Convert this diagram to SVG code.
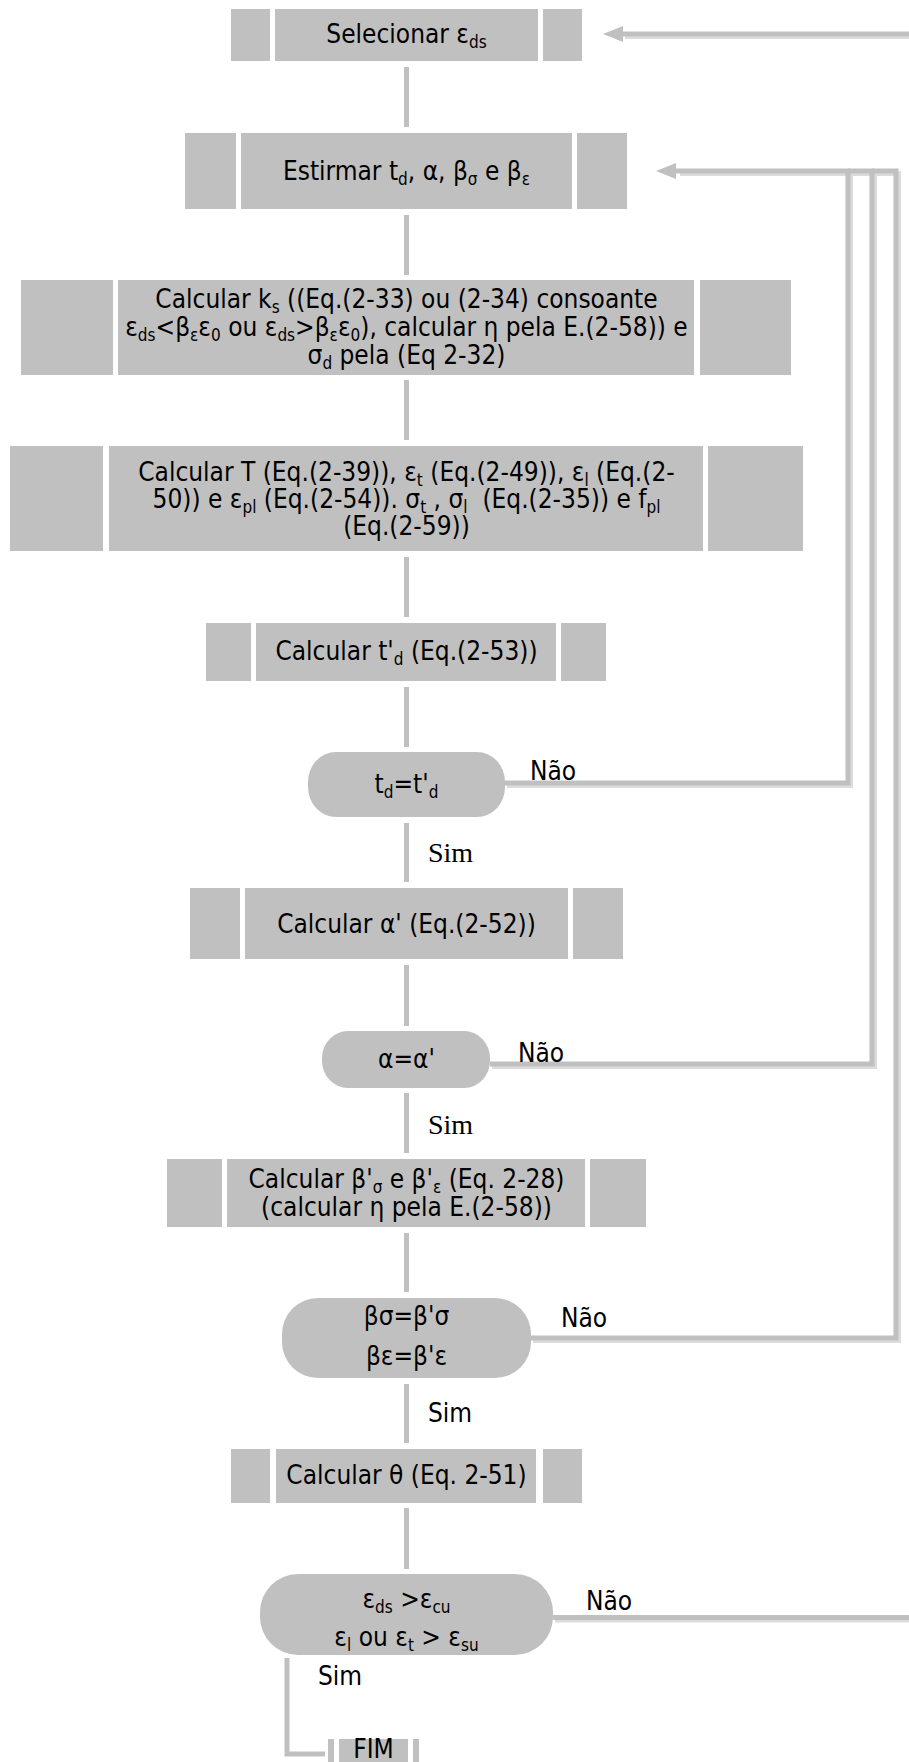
<svg xmlns="http://www.w3.org/2000/svg" width="909" height="1762" viewBox="0 0 909 1762">
<style>
.box{fill:#c0c0c0}
.t{font-family:'DejaVu Sans Condensed','DejaVu Sans',sans-serif;font-stretch:condensed;font-size:26px;fill:#000;text-anchor:middle}
.lbl{font-family:'DejaVu Sans Condensed','DejaVu Sans',sans-serif;font-stretch:condensed;font-size:26px;fill:#000}
.sim{font-family:'Liberation Serif',serif;font-size:28px;fill:#000}
.s{font-size:17px}
.conn{stroke:#c0c0c0;stroke-width:5}
.loop{fill:none;stroke:#c0c0c0;stroke-width:5}
.loopsh{fill:none;stroke:#dcdcdc;stroke-width:5}
</style>
<defs>
<marker id="arr" markerUnits="userSpaceOnUse" viewBox="0 0 20 16" markerWidth="20" markerHeight="16" refX="0" refY="8" orient="auto">
<path d="M0,0 L20,8 L0,16 z" fill="#c0c0c0"/>
</marker>
</defs>

<g id="connectors">
<line class="conn" x1="406.5" y1="67" x2="406.5" y2="127"/>
<line class="conn" x1="406.5" y1="215" x2="406.5" y2="275"/>
<line class="conn" x1="406.5" y1="380" x2="406.5" y2="440"/>
<line class="conn" x1="406.5" y1="557" x2="406.5" y2="617"/>
<line class="conn" x1="406.5" y1="687" x2="406.5" y2="747"/>
<line class="conn" x1="406.5" y1="823" x2="406.5" y2="882"/>
<line class="conn" x1="406.5" y1="965" x2="406.5" y2="1026"/>
<line class="conn" x1="406.5" y1="1093" x2="406.5" y2="1153"/>
<line class="conn" x1="406.5" y1="1233" x2="406.5" y2="1292"/>
<line class="conn" x1="406.5" y1="1384" x2="406.5" y2="1443"/>
<line class="conn" x1="406.5" y1="1508" x2="406.5" y2="1569"/>
<polyline class="loop" points="287,1658 287,1754 325,1754"/>
<polyline class="loopsh" points="507,785.5 850.5,785.5 850.5,173.5"/>
<polyline class="loopsh" points="492,1066.5 874.5,1066.5 874.5,173.5"/>
<polyline class="loopsh" points="533,1340.5 898.5,1340.5 898.5,173.5 680,173.5"/>
<polyline class="loopsh" points="555,1620 930,1620"/>
<polyline class="loopsh" points="625,36.5 930,36.5"/>
<polyline class="loop" points="505,783 848,783 848,171 676,171" marker-end="url(#arr)"/>
<polyline class="loop" points="490,1064 872,1064 872,171 848,171"/>
<polyline class="loop" points="531,1338 896,1338 896,171 872,171"/>
<polyline class="loop" points="553,1617.5 930,1617.5 930,34 623,34" marker-end="url(#arr)"/>
</g>

<g id="n-selecionar">
<rect class="box" x="231" y="9" width="39" height="52"/>
<rect class="box" x="275" y="9" width="263" height="52"/>
<rect class="box" x="543" y="9" width="39" height="52"/>
<text class="t" x="406.5" y="43">Selecionar ε<tspan class="s" dy="5">ds</tspan></text>
</g>

<g id="n-estirmar">
<rect class="box" x="185" y="133" width="51" height="76"/>
<rect class="box" x="241" y="133" width="331" height="76"/>
<rect class="box" x="577" y="133" width="50" height="76"/>
<text class="t" x="406.5" y="180">Estirmar t<tspan class="s" dy="5">d</tspan><tspan dy="-5">, α, β</tspan><tspan class="s" dy="5">σ</tspan><tspan dy="-5"> e β</tspan><tspan class="s" dy="5">ε</tspan></text>
</g>

<g id="n-ks">
<rect class="box" x="21" y="280" width="92" height="95"/>
<rect class="box" x="118" y="280" width="576" height="95"/>
<rect class="box" x="700" y="280" width="91" height="95"/>
<text class="t" x="406.5" y="308">Calcular k<tspan class="s" dy="5">s</tspan><tspan dy="-5"> ((Eq.(2-33) ou (2-34) consoante</tspan></text>
<text class="t" x="406.5" y="336">ε<tspan class="s" dy="5">ds</tspan><tspan dy="-5">&lt;β</tspan><tspan class="s" dy="5">ε</tspan><tspan dy="-5">ε</tspan><tspan class="s" dy="5">0</tspan><tspan dy="-5"> ou ε</tspan><tspan class="s" dy="5">ds</tspan><tspan dy="-5">&gt;β</tspan><tspan class="s" dy="5">ε</tspan><tspan dy="-5">ε</tspan><tspan class="s" dy="5">0</tspan><tspan dy="-5">), calcular η pela E.(2-58)) e</tspan></text>
<text class="t" x="406.5" y="364">σ<tspan class="s" dy="5">d</tspan><tspan dy="-5"> pela (Eq 2-32)</tspan></text>
</g>

<g id="n-T">
<rect class="box" x="10" y="446" width="93" height="105"/>
<rect class="box" x="109" y="446" width="594" height="105"/>
<rect class="box" x="708" y="446" width="95" height="105"/>
<text class="t" x="406.5" y="481">Calcular T (Eq.(2-39)), ε<tspan class="s" dy="5">t</tspan><tspan dy="-5"> (Eq.(2-49)), ε</tspan><tspan class="s" dy="5">l</tspan><tspan dy="-5"> (Eq.(2-</tspan></text>
<text class="t" x="406.5" y="508">50)) e ε<tspan class="s" dy="5">pl</tspan><tspan dy="-5"> (Eq.(2-54)). σ</tspan><tspan class="s" dy="5">t</tspan><tspan dy="-5"> , σ</tspan><tspan class="s" dy="5">l</tspan><tspan dy="-5"> &#160;(Eq.(2-35)) e f</tspan><tspan class="s" dy="5">pl</tspan></text>
<text class="t" x="406.5" y="535">(Eq.(2-59))</text>
</g>

<g id="n-td">
<rect class="box" x="206" y="623" width="45" height="58"/>
<rect class="box" x="256" y="623" width="300" height="58"/>
<rect class="box" x="561" y="623" width="45" height="58"/>
<text class="t" x="406.5" y="660">Calcular t'<tspan class="s" dy="5">d</tspan><tspan dy="-5"> (Eq.(2-53))</tspan></text>
</g>

<g id="d-td">
<rect class="box" x="308" y="752" width="197" height="65" rx="28" ry="30"/>
<text class="t" x="406.5" y="793">t<tspan class="s" dy="5">d</tspan><tspan dy="-5">=t'</tspan><tspan class="s" dy="5">d</tspan></text>
</g>

<g id="n-alpha">
<rect class="box" x="190" y="888" width="50" height="71"/>
<rect class="box" x="245" y="888" width="323" height="71"/>
<rect class="box" x="573" y="888" width="50" height="71"/>
<text class="t" x="406.5" y="933">Calcular α' (Eq.(2-52))</text>
</g>

<g id="d-alpha">
<rect class="box" x="322" y="1031" width="168" height="57" rx="26" ry="27"/>
<text class="t" x="406.5" y="1068">α=α'</text>
</g>

<g id="n-beta">
<rect class="box" x="167" y="1159" width="55" height="68"/>
<rect class="box" x="227" y="1159" width="358" height="68"/>
<rect class="box" x="590" y="1159" width="56" height="68"/>
<text class="t" x="406.5" y="1188">Calcular β'<tspan class="s" dy="5">σ</tspan><tspan dy="-5"> e β'</tspan><tspan class="s" dy="5">ε</tspan><tspan dy="-5"> (Eq. 2-28)</tspan></text>
<text class="t" x="406.5" y="1216">(calcular η pela E.(2-58))</text>
</g>

<g id="d-beta">
<rect class="box" x="282" y="1298" width="249" height="80" rx="36" ry="36"/>
<text class="t" x="406.5" y="1325">βσ=β'σ</text>
<text class="t" x="406.5" y="1365">βε=β'ε</text>
</g>

<g id="n-theta">
<rect class="box" x="231" y="1449" width="39" height="54"/>
<rect class="box" x="276" y="1449" width="260" height="54"/>
<rect class="box" x="543" y="1449" width="39" height="54"/>
<text class="t" x="406.5" y="1484">Calcular θ (Eq. 2-51)</text>
</g>

<g id="d-eps">
<rect class="box" x="260" y="1574" width="293" height="81" rx="38" ry="38"/>
<text class="t" x="406.5" y="1608">ε<tspan class="s" dy="5">ds</tspan><tspan dy="-5"> &gt;ε</tspan><tspan class="s" dy="5">cu</tspan></text>
<text class="t" x="406.5" y="1646">ε<tspan class="s" dy="5">l</tspan><tspan dy="-5"> ou ε</tspan><tspan class="s" dy="5">t</tspan><tspan dy="-5"> &gt; ε</tspan><tspan class="s" dy="5">su</tspan></text>
</g>

<g id="n-fim">
<rect class="box" x="328" y="1739" width="6" height="40"/>
<rect class="box" x="339" y="1739" width="69" height="40"/>
<rect class="box" x="413" y="1739" width="6" height="40"/>
<text class="t" x="373.5" y="1758">FIM</text>
</g>

<g id="labels">
<text class="lbl" x="530" y="780">Não</text>
<text class="lbl" x="518" y="1062">Não</text>
<text class="lbl" x="561" y="1327">Não</text>
<text class="lbl" x="586" y="1610">Não</text>
<text class="sim" x="428" y="862">Sim</text>
<text class="sim" x="428" y="1134">Sim</text>
<text class="lbl" x="428" y="1422">Sim</text>
<text class="lbl" x="318" y="1685">Sim</text>
</g>
</svg>
